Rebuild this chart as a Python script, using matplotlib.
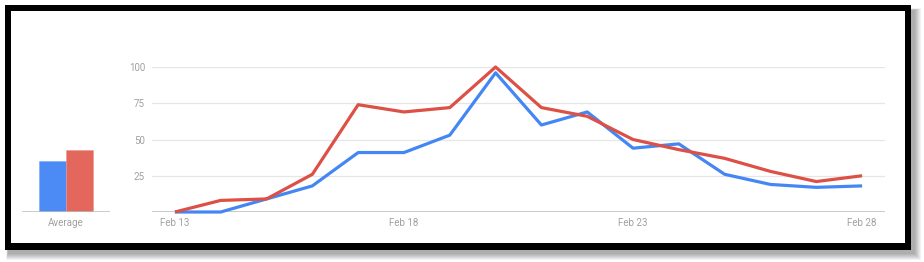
import matplotlib
matplotlib.use('Agg')
import matplotlib.pyplot as plt
from matplotlib.patches import Rectangle

plt.rcParams['font.family'] = ['Roboto', 'DejaVu Sans']

# ---- data ----
days = ['Feb 13', 'Feb 14', 'Feb 15', 'Feb 16', 'Feb 17', 'Feb 18', 'Feb 19', 'Feb 20',
        'Feb 21', 'Feb 22', 'Feb 23', 'Feb 24', 'Feb 25', 'Feb 26', 'Feb 27', 'Feb 28']
blue_values = [0, 0, 9, 18, 41, 41, 53, 96, 60, 69, 44, 47, 26, 19, 17, 18]
red_values = [0, 8, 9, 26, 74, 69, 72, 100, 72, 66, 50, 43, 37, 28, 21, 25]
avg_label = 'Average'
avg_blue = 35
avg_red = 43
y_ticks = [25, 50, 75, 100]
x_tick_labels = ['Feb 13', 'Feb 18', 'Feb 23', 'Feb 28']

BLUE_LINE = '#4487f4'
RED_LINE = '#dc5046'
BLUE_BAR = '#4c8bf5'
RED_BAR = '#e4675e'
GRID = '#e6e6e6'
BASE = '#bdbdbd'
TXT = '#a0a0a0'

W, H = 924, 262
fig = plt.figure(figsize=(W / 100, H / 100), dpi=100)
fig.patch.set_facecolor('white')


def rect_px(x0, y0, x1, y1, **kw):
    r = Rectangle((x0 / W, 1 - y1 / H), (x1 - x0) / W, (y1 - y0) / H,
                  transform=fig.transFigure, **kw)
    fig.add_artist(r)
    return r


# shadow
for s in range(7):
    rect_px(5 + 3 - s * 0.3, 5 + 5 - s * 0.3, 911 + 4 + s, 250 + 4 + s,
            facecolor='#000000', edgecolor='none', alpha=0.05, zorder=-30)
# black frame
rect_px(5, 5, 911, 250, facecolor='black', edgecolor='none', zorder=-20)
rect_px(11, 11, 904.5, 243, facecolor='white', edgecolor='none', zorder=-10)

# ---- line chart ----
ax = fig.add_axes([152 / W, 1 - 212 / H, (885 - 152) / W, (212 - 67) / H])
ax.set_facecolor('none')
x = list(range(len(days)))
ax.plot(x, blue_values, color=BLUE_LINE, lw=2.3, clip_on=False,
        solid_joinstyle='round', solid_capstyle='butt', zorder=3)
ax.plot(x, red_values, color=RED_LINE, lw=2.3, clip_on=False,
        solid_joinstyle='round', solid_capstyle='butt', zorder=4)
ax.set_xlim(-0.5, len(days) - 0.5)
ax.set_ylim(0, 100)
for v in y_ticks:
    ax.axhline(v, color=GRID, lw=0.9, zorder=1)
ax.axhline(0, color=BASE, lw=1.1, zorder=2)
for sp in ax.spines.values():
    sp.set_visible(False)
ax.set_yticks(y_ticks)
ax.set_yticklabels([str(v) for v in y_ticks])
ax.set_xticks([days.index(d) for d in x_tick_labels])
ax.set_xticklabels(x_tick_labels)
ax.tick_params(axis='both', length=0, labelsize=7, labelcolor=TXT)
ax.tick_params(axis='y', pad=5)
ax.tick_params(axis='x', pad=4)

# ---- average bars ----
ax2 = fig.add_axes([22 / W, 1 - 212 / H, (110 - 22) / W, (212 - 67) / H])
ax2.set_facecolor('none')
ax2.bar([0], [avg_blue], width=1.0, color=BLUE_BAR, edgecolor='#7aa8f7', lw=0.4, zorder=2)
ax2.bar([1], [avg_red], width=1.0, color=RED_BAR, edgecolor='#ee928b', lw=0.4, zorder=2)
ax2.set_xlim(-1.15, 2.15)
ax2.set_ylim(0, 100)
ax2.axhline(0, color=BASE, lw=1.1, zorder=3)
for sp in ax2.spines.values():
    sp.set_visible(False)
ax2.set_yticks([])
ax2.set_xticks([0.5])
ax2.set_xticklabels([avg_label])
ax2.tick_params(axis='x', length=0, labelsize=7, labelcolor=TXT, pad=4)

fig.savefig('out.png', dpi=100, facecolor='white')
